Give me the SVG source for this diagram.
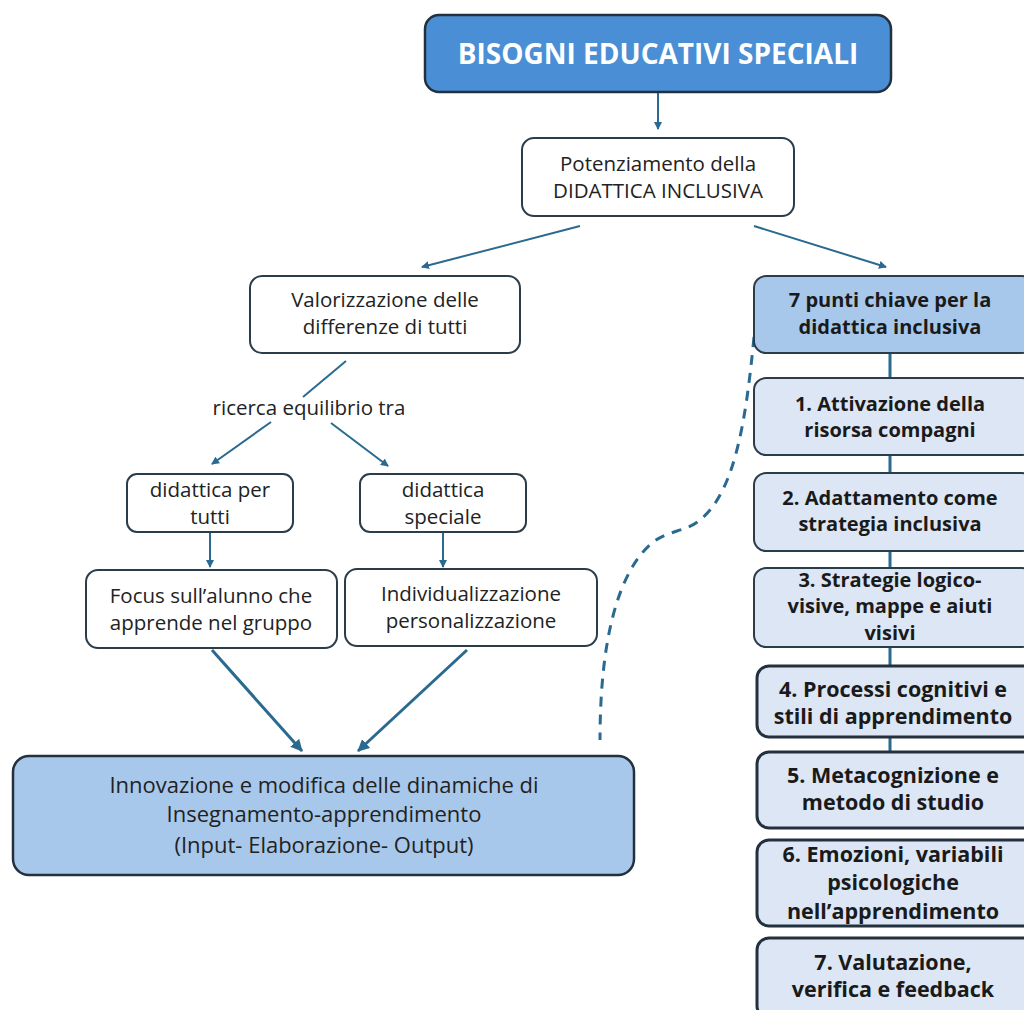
<svg xmlns="http://www.w3.org/2000/svg" width="1024" height="1010" viewBox="0 0 1024 1010">
<style>
.box{fill:#fff;stroke:#2b3c4a;stroke-width:2}
.lt{fill:#dce6f4;stroke:#2b3c4a;stroke-width:2}
.lt2{fill:#dce6f4;stroke:#22313d;stroke-width:3}
.mid{fill:#a8c8eb;stroke:#2b3c4a;stroke-width:2}
.t{font-family:"Open Sans","Liberation Sans",sans-serif;font-size:20.5px;fill:#222;text-anchor:middle}
.b{font-family:"Open Sans","Liberation Sans",sans-serif;font-size:20px;font-weight:bold;fill:#1a1a1a;text-anchor:middle}
.b2{font-family:"Open Sans","Liberation Sans",sans-serif;font-size:21.5px;font-weight:bold;fill:#1a1a1a;text-anchor:middle}
.c{stroke:#2a6a90;stroke-width:2;fill:none}
.c3{stroke:#2a6a90;stroke-width:3;fill:none}
</style>
<defs>
<marker id="ah" markerWidth="8" markerHeight="8" refX="7" refY="4" orient="auto" markerUnits="userSpaceOnUse">
<path d="M0,0 L8,4 L0,8 Z" fill="#2a6a90"/>
</marker>
<marker id="ah2" markerWidth="12" markerHeight="12" refX="11" refY="6" orient="auto" markerUnits="userSpaceOnUse">
<path d="M0,0 L12,6 L0,12 Z" fill="#2a6a90"/>
</marker>
</defs>
<rect width="1024" height="1010" fill="#fff"/>
<g id="connectors">
<line class="c" x1="658" y1="93" x2="658" y2="129" marker-end="url(#ah)"/>
<line class="c" x1="580" y1="226" x2="422" y2="267" marker-end="url(#ah)"/>
<line class="c" x1="754" y1="226" x2="886" y2="267" marker-end="url(#ah)"/>
<line class="c" x1="346" y1="361" x2="303" y2="397"/>
<line class="c" x1="271" y1="422" x2="212" y2="464" marker-end="url(#ah)"/>
<line class="c" x1="331" y1="423" x2="388" y2="466" marker-end="url(#ah)"/>
<line class="c" x1="210" y1="533" x2="210" y2="567" marker-end="url(#ah)"/>
<line class="c" x1="443" y1="533" x2="443" y2="567" marker-end="url(#ah)"/>
<line class="c3" x1="212" y1="650" x2="302" y2="751" marker-end="url(#ah2)"/>
<line class="c3" x1="467" y1="650" x2="358" y2="751" marker-end="url(#ah2)"/>
<line class="c3" x1="890" y1="353" x2="890" y2="752"/>
<path class="c3" d="M754,337 C746,420 735,492 700,520 C686,532 668,530 652,543 C618,572 600,640 600,740" stroke-dasharray="10,8"/>
</g>
<g id="n-bes">
<rect x="425" y="15" width="466" height="77" rx="14" fill="#4a8fd5" stroke="#22313d" stroke-width="2.5"/>
<text x="658" y="64" font-family="Open Sans,Liberation Sans,sans-serif" font-size="28" font-weight="bold" fill="#fff" text-anchor="middle">BISOGNI EDUCATIVI SPECIALI</text>
</g>
<g id="n-pot">
<rect class="box" x="522" y="138" width="272" height="78" rx="12"/>
<text class="t" x="658" y="171">Potenziamento della</text>
<text class="t" x="658" y="198">DIDATTICA INCLUSIVA</text>
</g>
<g id="n-val">
<rect class="box" x="250" y="276" width="270" height="77" rx="12"/>
<text class="t" x="385" y="307">Valorizzazione delle</text>
<text class="t" x="385" y="334">differenze di tutti</text>
</g>
<g id="n-ric">
<text class="t" x="309" y="415">ricerca equilibrio tra</text>
</g>
<g id="n-dpt">
<rect class="box" x="127" y="474" width="166" height="58" rx="10"/>
<text class="t" x="210" y="497">didattica per</text>
<text class="t" x="210" y="524">tutti</text>
</g>
<g id="n-dsp">
<rect class="box" x="360" y="474" width="166" height="58" rx="10"/>
<text class="t" x="443" y="497">didattica</text>
<text class="t" x="443" y="524">speciale</text>
</g>
<g id="n-foc">
<rect class="box" x="86" y="570" width="251" height="78" rx="12"/>
<text class="t" x="211" y="603">Focus sull’alunno che</text>
<text class="t" x="211" y="630">apprende nel gruppo</text>
</g>
<g id="n-ind">
<rect class="box" x="345" y="569" width="252" height="77" rx="12"/>
<text class="t" x="471" y="601">Individualizzazione</text>
<text class="t" x="471" y="628">personalizzazione</text>
</g>
<g id="n-inn">
<rect x="13" y="756" width="621" height="119" rx="16" fill="#a8c8eb" stroke="#22313d" stroke-width="2.5"/>
<text class="t" x="324" y="793" style="font-size:22px">Innovazione e modifica delle dinamiche di</text>
<text class="t" x="324" y="822" style="font-size:22px">Insegnamento-apprendimento</text>
<text class="t" x="324" y="853" style="font-size:22px">(Input- Elaborazione- Output)</text>
</g>
<g id="n-7p">
<rect class="mid" x="754" y="276" width="280" height="77" rx="12"/>
<text class="b" x="890" y="307">7 punti chiave per la</text>
<text class="b" x="890" y="334">didattica inclusiva</text>
</g>
<g id="n-1">
<rect class="lt" x="754" y="378" width="280" height="77" rx="12"/>
<text class="b" x="890" y="411">1. Attivazione della</text>
<text class="b" x="890" y="437">risorsa compagni</text>
</g>
<g id="n-2">
<rect class="lt" x="754" y="473" width="280" height="78" rx="12"/>
<text class="b" x="890" y="505">2. Adattamento come</text>
<text class="b" x="890" y="531">strategia inclusiva</text>
</g>
<g id="n-3">
<rect class="lt" x="754" y="568" width="280" height="79" rx="12"/>
<text class="b" x="890" y="587">3. Strategie logico-</text>
<text class="b" x="890" y="613">visive, mappe e aiuti</text>
<text class="b" x="890" y="640">visivi</text>
</g>
<g id="n-4">
<rect class="lt2" x="757" y="666" width="280" height="71" rx="12"/>
<text class="b2" x="893" y="697">4. Processi cognitivi e</text>
<text class="b2" x="893" y="724">stili di apprendimento</text>
</g>
<g id="n-5">
<rect class="lt2" x="757" y="752" width="280" height="76" rx="12"/>
<text class="b2" x="893" y="783">5. Metacognizione e</text>
<text class="b2" x="893" y="810">metodo di studio</text>
</g>
<g id="n-6">
<rect class="lt2" x="757" y="840" width="280" height="86" rx="12"/>
<text class="b2" x="893" y="862">6. Emozioni, variabili</text>
<text class="b2" x="893" y="890">psicologiche</text>
<text class="b2" x="893" y="919">nell’apprendimento</text>
</g>
<g id="n-7">
<rect class="lt2" x="757" y="938" width="280" height="80" rx="12"/>
<text class="b2" x="893" y="970">7. Valutazione,</text>
<text class="b2" x="893" y="997">verifica e feedback</text>
</g>
</svg>
